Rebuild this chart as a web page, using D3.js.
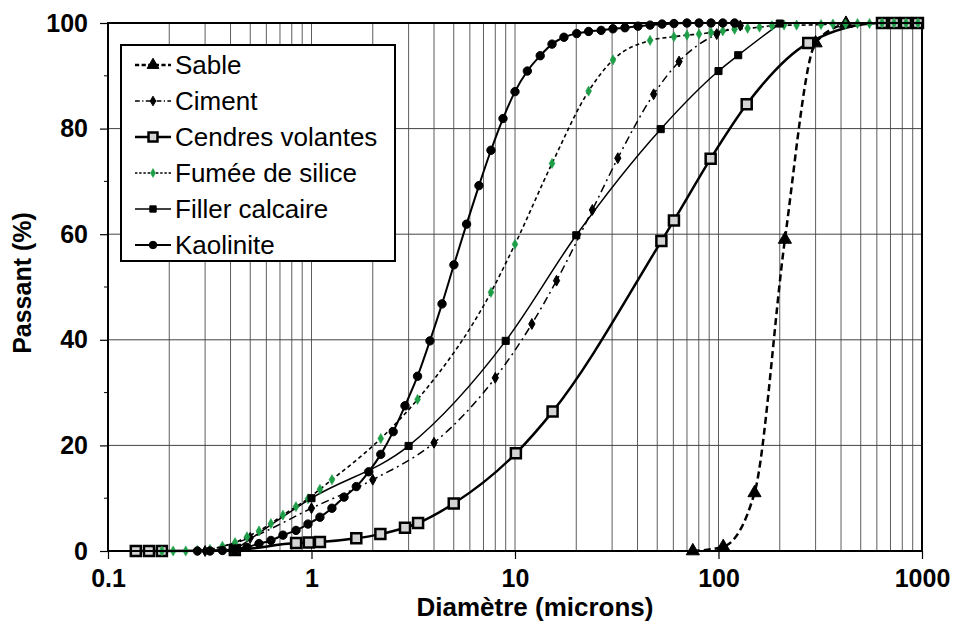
<!DOCTYPE html>
<html>
<head>
<meta charset="utf-8">
<script src="https://cdn.jsdelivr.net/npm/d3@7"></script>
<style>
  body { margin: 0; background: #fff; }
  text { font-family: "Liberation Sans", Arial, sans-serif; }
</style>
</head>
<body>
<div id="wrapper"></div>
<script>
// DATA (diametre en microns, passant en %)
const sableD = [74.8, 105.5, 150.3, 212, 300, 423]
const sableP = [0, 0.8, 11.0, 59.0, 96.2, 99.9]

const cimentD = [0.3, 0.5, 1.0, 2.0, 4.0, 8.0, 12.1, 16, 24, 32, 48, 64, 98, 128]
const cimentP = [0, 2.5, 8.1, 13.5, 20.5, 32.8, 43, 51.2, 64.6, 74.4, 86.5, 92.7, 97.9, 99.5]

const cendresD = [0.137, 0.159, 0.184, 0.42, 0.84, 0.97, 1.10, 1.66, 2.18, 2.88, 3.34, 5.0,
  10.1, 15.3, 52.4, 60.4, 91.5, 137.6, 276, 636, 729, 834, 955]
const cendresP = [0, 0, 0, 0.2, 1.5, 1.6, 1.7, 2.4, 3.2, 4.4, 5.3, 9.0,
  18.5, 26.4, 58.7, 62.6, 74.3, 84.6, 96.2, 100, 100, 100, 100]

const fumeeD = [0.184, 0.209, 0.241, 0.275, 0.317, 0.365, 0.421, 0.482, 0.552, 0.632, 0.724, 0.839,
  0.961, 1.10, 1.26, 2.19, 3.32, 7.62, 10, 15.2, 23.0, 30.3, 46.1, 60.4, 70.0, 80.2, 91.9, 105,
  120, 139, 159, 183, 210, 242, 319, 365, 421, 482, 552, 636, 729, 834, 955]
const fumeeP = [0, 0, 0, 0.1, 0.3, 0.9, 1.6, 2.7, 3.8, 5.2, 6.8, 8.4,
  9.9, 11.7, 13.5, 21.3, 28.7, 49, 58.1, 73.4, 87.1, 93, 96.7, 97.4, 97.7, 97.9, 98.2, 98.5,
  98.8, 99.0, 99.2, 99.5, 99.6, 99.6, 99.7, 99.8, 99.8, 99.9, 99.9, 100, 100, 100, 100]

const fillerD = [0.42, 1.0, 3.0, 9.0, 20, 52, 100, 125, 200]
const fillerP = [0.2, 10, 19.9, 39.8, 59.8, 79.9, 90.9, 93.9, 99.9]

const kaoD = [0.275, 0.317, 0.365, 0.421, 0.482, 0.552, 0.632, 0.724, 0.839, 0.961, 1.10, 1.26,
  1.445, 1.66, 1.91, 2.19, 2.52, 2.88, 3.32, 3.82, 4.38, 5.01, 5.78, 6.65, 7.62, 8.73, 10, 11.5,
  13.3, 15.2, 17.4, 20.1, 23.0, 26.5, 30.3, 34.7, 40.2, 46.1, 52.8, 60.4, 70.0, 80.2, 91.9, 105, 120]
const kaoP = [0, 0, 0.1, 0.4, 0.7, 1.4, 2.0, 3.0, 3.9, 5.1, 6.4, 8.1,
  10.2, 12.2, 15, 18.3, 22.6, 27.5, 33.1, 39.8, 46.8, 54.2, 61.9, 69.2, 75.9, 81.9, 87, 90.9,
  93.8, 96, 97.3, 98, 98.4, 98.6, 98.9, 99.1, 99.4, 99.6, 99.8, 99.9, 100, 100, 100, 100, 100]

const xTicks = [0.1, 1, 10, 100, 1000]
const yTicks = [0, 20, 40, 60, 80, 100]

// series styles
const series = [
  { name: "Sable", d: sableD, p: sableP, width: 2.5, dash: "7,4", symbol: d3.symbolTriangle, size: 75, fill: "#000", stroke: "#000", sw: 1 },
  { name: "Ciment", d: cimentD, p: cimentP, width: 1.5, dash: "8,4,2,4", symbol: d3.symbolDiamond, size: 34, fill: "#000", stroke: "#000", sw: 1 },
  { name: "Cendres volantes", d: cendresD, p: cendresP, width: 2.5, dash: null, symbol: d3.symbolSquare, size: 100, fill: "#d4d4d4", stroke: "#000", sw: 2.5 },
  { name: "Fumée de silice", d: fumeeD, p: fumeeP, width: 1.6, dash: "4,3", symbol: d3.symbolDiamond, size: 30, fill: "#1f9e48", stroke: "#1f9e48", sw: 0.5 },
  { name: "Filler calcaire", d: fillerD, p: fillerP, width: 1.5, dash: null, symbol: d3.symbolSquare, size: 50, fill: "#000", stroke: "#000", sw: 1 },
  { name: "Kaolinite", d: kaoD, p: kaoP, width: 2, dash: null, symbol: d3.symbolCircle, size: 55, fill: "#000", stroke: "#000", sw: 1 },
]

// DIMENSIONS
const dimensions = {
  width: 956,
  height: 624,
  margin: { top: 23, right: 34, bottom: 73, left: 108 },
}
dimensions.boundedWidth = dimensions.width - dimensions.margin.left - dimensions.margin.right
dimensions.boundedHeight = dimensions.height - dimensions.margin.top - dimensions.margin.bottom

const wrapper = d3.select("#wrapper")
  .append("svg")
  .attr("width", dimensions.width)
  .attr("height", dimensions.height)

const bounds = wrapper.append("g")
  .attr("transform", `translate(${dimensions.margin.left},${dimensions.margin.top})`)

// SCALES
const xScale = d3.scaleLog()
  .domain([0.1, 1000])
  .range([0, dimensions.boundedWidth])

const yScale = d3.scaleLinear()
  .domain([0, 100])
  .range([dimensions.boundedHeight, 0])

// GRID
const minorX = []
for (let e = -1; e < 3; e++) {
  for (let k = 1; k <= 9; k++) minorX.push(k * Math.pow(10, e))
}
bounds.append("g").selectAll("line")
  .data(minorX)
  .join("line")
  .attr("x1", d => xScale(d)).attr("x2", d => xScale(d))
  .attr("y1", 0).attr("y2", dimensions.boundedHeight)
  .attr("stroke", "#5e5e5e")
  .attr("stroke-width", 1)

bounds.append("g").selectAll("line")
  .data([20, 40, 60, 80])
  .join("line")
  .attr("x1", 0).attr("x2", dimensions.boundedWidth)
  .attr("y1", d => yScale(d)).attr("y2", d => yScale(d))
  .attr("stroke", "#444")
  .attr("stroke-width", 1)

// AXES
const yAxis = bounds.append("g")
  .call(d3.axisLeft(yScale).tickValues(yTicks).tickSize(8).tickFormat(d3.format("d")))
yAxis.select(".domain").remove()
yAxis.selectAll("line").attr("stroke", "#000").attr("stroke-width", 1.2)
yAxis.selectAll("text")
  .attr("x", -20)
  .style("font-size", "25px")
  .style("font-weight", "bold")
  .attr("fill", "#000")

bounds.append("g").selectAll("line")
  .data([10, 30, 50, 70, 90])
  .join("line")
  .attr("x1", -4).attr("x2", 0)
  .attr("y1", d => yScale(d)).attr("y2", d => yScale(d))
  .attr("stroke", "#000")

const xAxis = bounds.append("g")
  .attr("transform", `translate(0,${dimensions.boundedHeight})`)
  .call(d3.axisBottom(xScale).tickValues(xTicks).tickSize(8).tickFormat(d => String(d)))
xAxis.select(".domain").remove()
xAxis.selectAll("line").attr("stroke", "#000").attr("stroke-width", 1.2)
xAxis.selectAll("text")
  .attr("y", 18)
  .style("font-size", "25px")
  .style("font-weight", "bold")
  .attr("fill", "#000")

bounds.append("text")
  .attr("x", dimensions.boundedWidth / 2 + 20)
  .attr("y", dimensions.boundedHeight + 65)
  .attr("text-anchor", "middle")
  .style("font-size", "26px")
  .style("font-weight", "bold")
  .text("Diamètre (microns)")

wrapper.append("text")
  .attr("transform", `translate(31,${dimensions.margin.top + dimensions.boundedHeight / 2 - 4}) rotate(-90)`)
  .attr("text-anchor", "middle")
  .style("font-size", "25px")
  .style("font-weight", "bold")
  .text("Passant (%)")

// LINES
const lineGen = d3.line()
  .x(d => xScale(d[0]))
  .y(d => yScale(d[1]))
  .curve(d3.curveMonotoneX)

const plot = bounds.append("g")
series.forEach(s => {
  const pts = s.d.map((v, i) => [v, s.p[i]])
  plot.append("path")
    .datum(pts)
    .attr("d", lineGen)
    .attr("fill", "none")
    .attr("stroke", "#000")
    .attr("stroke-width", s.width)
    .attr("stroke-dasharray", s.dash)
})
series.forEach(s => {
  const pts = s.d.map((v, i) => [v, s.p[i]])
  plot.append("g").selectAll("path")
    .data(pts)
    .join("path")
    .attr("transform", d => `translate(${xScale(d[0])},${yScale(d[1])})`)
    .attr("d", d3.symbol(s.symbol, s.size))
    .attr("fill", s.fill)
    .attr("stroke", s.stroke)
    .attr("stroke-width", s.sw)
})

// FRAME
bounds.append("rect")
  .attr("width", dimensions.boundedWidth)
  .attr("height", dimensions.boundedHeight)
  .attr("fill", "none")
  .attr("stroke", "#000")
  .attr("stroke-width", 2)

// LEGEND
const legend = wrapper.append("g")
legend.append("rect")
  .attr("x", 121).attr("y", 45)
  .attr("width", 274).attr("height", 216)
  .attr("fill", "#fff")
  .attr("stroke", "#000")
  .attr("stroke-width", 2)

const items = legend.selectAll("g.item")
  .data(series)
  .join("g")
  .attr("class", "item")
  .attr("transform", (d, i) => `translate(0,${65 + i * 36})`)

items.append("line")
  .attr("x1", 135).attr("x2", 171)
  .attr("stroke", "#000")
  .attr("stroke-width", d => d.width)
  .attr("stroke-dasharray", d => d.dash ? d.dash.split(",").map(v => v * 0.6).join(",") : null)
items.append("path")
  .attr("transform", "translate(153,0)")
  .attr("d", d => d3.symbol(d.symbol, d.size * 0.8)())
  .attr("fill", d => d.fill)
  .attr("stroke", d => d.stroke)
  .attr("stroke-width", d => d.sw)
items.append("text")
  .attr("x", 175)
  .attr("dy", "0.36em")
  .style("font-size", "26px")
  .text(d => d.name)
</script>
</body>
</html>
